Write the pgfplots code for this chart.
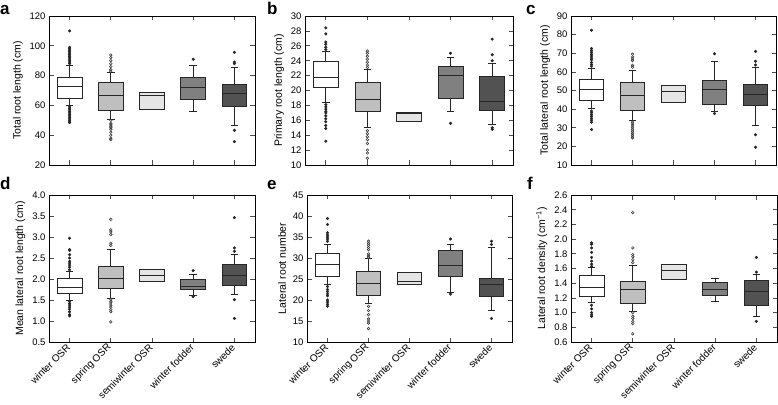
\documentclass[border=0pt]{standalone}
\usepackage{fontspec}
\setmainfont{Liberation Sans}
\usepackage{pgfplots}
\pgfplotsset{compat=1.18}
\usepgfplotslibrary{statistics}
\definecolor{cA}{gray}{1.0}
\definecolor{cB}{gray}{0.75}
\definecolor{cC}{gray}{0.90}
\definecolor{cD}{gray}{0.50}
\definecolor{cE}{gray}{0.32}
\pgfplotsset{
  panel/.style={
    scale only axis,
    anchor=south west,
    xmin=-0.5, xmax=4.5,
    xtick={0,1,2,3,4},
    tick align=inside,
    major tick length=4.5pt,
    axis line style={black},
    tick style={black!70, line width=0.7pt},
    ticklabel style={font=\fontsize{9.5}{10}\selectfont},
    ylabel style={font=\fontsize{10.5}{11}\selectfont},
    /pgf/number format/assume math mode=true,
    clip=false,
  },
  toprow/.style={xticklabels={}},
  botrow/.style={xticklabels={winter OSR,spring OSR,semiwinter OSR,winter fodder,swede},
    xticklabel style={rotate=45, anchor=east, yshift=-2pt, font=\fontsize{10}{10}\selectfont}},
  bx/.style={boxplot/draw direction=y, draw=black!85, line width=0.75pt, mark=*, mark size=1.35pt,
    mark options={fill=black!85, draw=black!85, line width=0.4pt},
    boxplot/box extend=0.6, boxplot/whisker extend=0.18},
  bxo/.style={boxplot/draw direction=y, draw=black!85, line width=0.75pt, mark=o, mark size=1.3pt,
    mark options={draw=black!75, line width=0.6pt},
    boxplot/box extend=0.6, boxplot/whisker extend=0.18},
}
\begin{document}
\begin{tikzpicture}
\path[use as bounding box] (0pt,0pt) rectangle (778pt,404pt);
% ---------------- a ----------------
\begin{axis}[panel, toprow, at={(49pt,239pt)}, width=206pt, height=149pt,
  ymin=20, ymax=120, ytick={20,40,60,80,100,120}, ylabel={Total root length (cm)}]
\addplot[bx, fill=cA, boxplot prepared={draw position=0, median=72.6, upper quartile=78.6, lower quartile=64.7, upper whisker=86.7, lower whisker=60.0}]
  table[row sep=\\, y index=0] {v\\ 110\\ 99\\ 98\\ 97\\ 96\\ 95\\ 94\\ 93\\ 92\\ 91\\ 90\\ 89\\ 88\\ 59\\ 58\\ 57\\ 56\\ 55\\ 54\\ 53\\ 52\\ 51\\ 50\\ 49\\ 48.5\\};
\addplot[bxo, fill=cB, boxplot prepared={draw position=1, median=66.5, upper quartile=75.3, lower quartile=56.9, upper whisker=82.0, lower whisker=50.9}]
  table[row sep=\\, y index=0] {v\\ 93.8\\ 92\\ 90\\ 88\\ 86\\ 84\\ 83\\ 50\\ 48\\ 47\\ 46\\ 45\\ 44\\ 42\\ 40\\ 38\\ 37\\};
\addplot[bx, fill=cC, boxplot prepared={draw position=2, median=66.5, upper quartile=68.5, lower quartile=57.6, upper whisker=68.5, lower whisker=57.6, whisker extend=0}]
  coordinates {};
\addplot[bx, fill=cD, boxplot prepared={draw position=3, median=72.1, upper quartile=78.8, lower quartile=63.8, upper whisker=87.1, lower whisker=56.2}]
  table[row sep=\\, y index=0] {v\\ 91\\};
\addplot[bx, fill=cE, boxplot prepared={draw position=4, median=68.1, upper quartile=73.9, lower quartile=59.4, upper whisker=85.3, lower whisker=46.8}]
  table[row sep=\\, y index=0] {v\\ 95.6\\ 89\\ 88\\ 43.3\\ 35.7\\};
\end{axis}
% ---------------- b ----------------
\begin{axis}[panel, toprow, at={(305pt,239pt)}, width=208pt, height=149pt,
  ymin=10, ymax=30, ytick={10,12,...,30}, ylabel={Primary root length (cm)}]
\addplot[bx, fill=cA, boxplot prepared={draw position=0, median=21.8, upper quartile=23.9, lower quartile=20.4, upper whisker=25.3, lower whisker=18.4}]
  table[row sep=\\, y index=0] {v\\ 28.4\\ 27.6\\ 26.5\\ 26.2\\ 25.8\\ 25.5\\ 18.1\\ 17.8\\ 17.5\\ 17.2\\ 17.0\\ 16.6\\ 16.2\\ 15.8\\ 15.3\\ 14.9\\ 13.2\\};
\addplot[bxo, fill=cB, boxplot prepared={draw position=1, median=18.8, upper quartile=21.1, lower quartile=17.2, upper whisker=22.9, lower whisker=15.1}]
  table[row sep=\\, y index=0] {v\\ 25.3\\ 25.0\\ 24.6\\ 24.2\\ 23.8\\ 23.4\\ 23.1\\ 14.6\\ 14.2\\ 13.8\\ 13.4\\ 12.9\\ 12.0\\ 11.6\\ 10.9\\};
\addplot[bx, fill=cC, boxplot prepared={draw position=2, median=16.9, upper quartile=17.1, lower quartile=15.9, upper whisker=17.1, lower whisker=15.9, whisker extend=0}]
  coordinates {};
\addplot[bx, fill=cD, boxplot prepared={draw position=3, median=22.0, upper quartile=23.3, lower quartile=19.0, upper whisker=24.4, lower whisker=17.2}]
  table[row sep=\\, y index=0] {v\\ 25.0\\ 15.6\\};
\addplot[bx, fill=cE, boxplot prepared={draw position=4, median=18.6, upper quartile=21.9, lower quartile=17.3, upper whisker=23.6, lower whisker=15.4}]
  table[row sep=\\, y index=0] {v\\ 26.9\\ 24.8\\ 24.0\\ 15.0\\ 14.8\\};
\end{axis}
% ---------------- c ----------------
\begin{axis}[panel, toprow, at={(571pt,239pt)}, width=205pt, height=149pt,
  ymin=10, ymax=90, ytick={10,20,...,90}, ylabel={Total lateral root length (cm)}]
\addplot[bx, fill=cA, boxplot prepared={draw position=0, median=50.8, upper quartile=55.8, lower quartile=44.7, upper whisker=62.1, lower whisker=40.5}]
  table[row sep=\\, y index=0] {v\\ 82.3\\ 72.5\\ 71.5\\ 70.5\\ 69.5\\ 68.5\\ 67.5\\ 66.5\\ 65\\ 64\\ 63\\ 39\\ 38\\ 37\\ 36\\ 35\\ 34\\ 33\\ 29\\};
\addplot[bxo, fill=cB, boxplot prepared={draw position=1, median=47.6, upper quartile=54.4, lower quartile=39.5, upper whisker=61.0, lower whisker=33.9}]
  table[row sep=\\, y index=0] {v\\ 69.5\\ 68\\ 67\\ 66\\ 63.5\\ 62.5\\ 33\\ 32\\ 31\\ 30\\ 29\\ 28\\ 27\\ 26\\ 25\\ 24.5\\};
\addplot[bx, fill=cC, boxplot prepared={draw position=2, median=49.7, upper quartile=52.8, lower quartile=43.4, upper whisker=52.8, lower whisker=43.4, whisker extend=0}]
  coordinates {};
\addplot[bx, fill=cD, boxplot prepared={draw position=3, median=50.8, upper quartile=55.3, lower quartile=42.5, upper whisker=65.4, lower whisker=38.9}]
  table[row sep=\\, y index=0] {v\\ 69.7\\ 37.7\\};
\addplot[bx, fill=cE, boxplot prepared={draw position=4, median=48.1, upper quartile=53.5, lower quartile=42.0, upper whisker=62.5, lower whisker=31.4}]
  table[row sep=\\, y index=0] {v\\ 71\\ 65.7\\ 63.7\\ 26.2\\ 19.5\\};
\end{axis}
% ---------------- d ----------------
\begin{axis}[panel, botrow, at={(49pt,62pt)}, width=206pt, height=147pt,
  ymin=0.5, ymax=4.0, ytick={0.5,1.0,...,4.0},
  yticklabel style={/pgf/number format/.cd, fixed, fixed zerofill, precision=1},
  ylabel={Mean lateral root length (cm)}]
\addplot[bx, fill=cA, boxplot prepared={draw position=0, median=1.80, upper quartile=2.01, lower quartile=1.66, upper whisker=2.18, lower whisker=1.50}]
  table[row sep=\\, y index=0] {v\\ 2.97\\ 2.70\\ 2.68\\ 2.58\\ 2.50\\ 2.42\\ 2.38\\ 2.33\\ 2.28\\ 2.22\\ 1.47\\ 1.42\\ 1.38\\ 1.33\\ 1.28\\ 1.22\\ 1.15\\ 1.12\\};
\addplot[bxo, fill=cB, boxplot prepared={draw position=1, median=2.01, upper quartile=2.31, lower quartile=1.77, upper whisker=2.70, lower whisker=1.55}]
  table[row sep=\\, y index=0] {v\\ 3.42\\ 3.17\\ 3.12\\ 3.06\\ 2.85\\ 2.80\\ 1.52\\ 1.47\\ 1.43\\ 1.38\\ 1.33\\ 1.27\\ 1.22\\ 0.98\\};
\addplot[bx, fill=cC, boxplot prepared={draw position=2, median=2.08, upper quartile=2.24, lower quartile=1.94, upper whisker=2.24, lower whisker=1.94, whisker extend=0}]
  coordinates {};
\addplot[bx, fill=cD, boxplot prepared={draw position=3, median=1.83, upper quartile=1.99, lower quartile=1.75, upper whisker=2.12, lower whisker=1.60}]
  table[row sep=\\, y index=0] {v\\ 2.20\\ 1.58\\};
\addplot[bx, fill=cE, boxplot prepared={draw position=4, median=2.09, upper quartile=2.35, lower quartile=1.85, upper whisker=2.59, lower whisker=1.63}]
  table[row sep=\\, y index=0] {v\\ 3.46\\ 2.74\\ 2.66\\ 1.51\\ 1.06\\};
\end{axis}
% ---------------- e ----------------
\begin{axis}[panel, botrow, at={(307pt,62pt)}, width=205pt, height=147pt,
  ymin=10, ymax=45, ytick={10,15,...,45}, ylabel={Lateral root number}]
\addplot[bx, fill=cA, boxplot prepared={draw position=0, median=28.5, upper quartile=31.2, lower quartile=25.7, upper whisker=33.3, lower whisker=23.7}]
  table[row sep=\\, y index=0] {v\\ 39.4\\ 38\\ 36\\ 35.5\\ 35\\ 34.5\\ 34\\ 23.2\\ 22.5\\ 22\\ 21.5\\ 21\\ 20\\ 19.5\\ 19\\ 18.5\\};
\addplot[bxo, fill=cB, boxplot prepared={draw position=1, median=23.9, upper quartile=26.9, lower quartile=21.0, upper whisker=29.9, lower whisker=19.2}]
  table[row sep=\\, y index=0] {v\\ 34\\ 33.5\\ 33\\ 32.5\\ 32\\ 31\\ 30.5\\ 30.2\\ 18.5\\ 17.5\\ 16.5\\ 15.5\\ 15\\ 14.5\\ 13.2\\};
\addplot[bx, fill=cC, boxplot prepared={draw position=2, median=24.4, upper quartile=26.5, lower quartile=23.7, upper whisker=26.5, lower whisker=23.7, whisker extend=0}]
  coordinates {};
\addplot[bx, fill=cD, boxplot prepared={draw position=3, median=28.2, upper quartile=31.9, lower quartile=25.6, upper whisker=33.3, lower whisker=21.9}]
  table[row sep=\\, y index=0] {v\\ 34.5\\ 21.4\\};
\addplot[bx, fill=cE, boxplot prepared={draw position=4, median=23.7, upper quartile=25.2, lower quartile=20.8, upper whisker=32.6, lower whisker=17.5}]
  table[row sep=\\, y index=0] {v\\ 34\\ 33.2\\ 15.6\\};
\end{axis}
% ---------------- f ----------------
\begin{axis}[panel, botrow, at={(571pt,62pt)}, width=206pt, height=147pt,
  ymin=0.6, ymax=2.6, ytick={0.6,0.8,...,2.61},
  yticklabel style={/pgf/number format/.cd, fixed, fixed zerofill, precision=1},
  ylabel={Lateral root density (cm\textsuperscript{−1})}]
\addplot[bx, fill=cA, boxplot prepared={draw position=0, median=1.34, upper quartile=1.50, lower quartile=1.226, upper whisker=1.61, lower whisker=1.136}]
  table[row sep=\\, y index=0] {v\\ 1.95\\ 1.93\\ 1.88\\ 1.82\\ 1.75\\ 1.70\\ 1.66\\ 1.63\\ 1.10\\ 1.05\\ 1.00\\ 0.97\\ 0.95\\};
\addplot[bxo, fill=cB, boxplot prepared={draw position=1, median=1.31, upper quartile=1.43, lower quartile=1.12, upper whisker=1.645, lower whisker=1.02}]
  table[row sep=\\, y index=0] {v\\ 2.36\\ 1.88\\ 1.79\\ 1.76\\ 1.72\\ 1.68\\ 1.00\\ 0.95\\ 0.92\\ 0.88\\ 0.85\\ 0.71\\};
\addplot[bx, fill=cC, boxplot prepared={draw position=2, median=1.58, upper quartile=1.65, lower quartile=1.45, upper whisker=1.65, lower whisker=1.45, whisker extend=0}]
  coordinates {};
\addplot[bx, fill=cD, boxplot prepared={draw position=3, median=1.31, upper quartile=1.41, lower quartile=1.235, upper whisker=1.46, lower whisker=1.15}]
  coordinates {};
\addplot[bx, fill=cE, boxplot prepared={draw position=4, median=1.29, upper quartile=1.44, lower quartile=1.095, upper whisker=1.52, lower whisker=0.95}]
  table[row sep=\\, y index=0] {v\\ 1.75\\ 1.55\\ 0.88\\};
\end{axis}
% panel letters
\begin{scope}[every node/.style={anchor=base west, inner sep=0pt, font=\bfseries\fontsize{17}{17}\selectfont}]
\node at (0pt,389pt) {a};
\node at (267pt,389pt) {b};
\node at (526pt,389pt) {c};
\node at (0pt,214pt) {d};
\node at (267pt,214pt) {e};
\node at (527pt,214pt) {f};
\end{scope}
\end{tikzpicture}
\end{document}
